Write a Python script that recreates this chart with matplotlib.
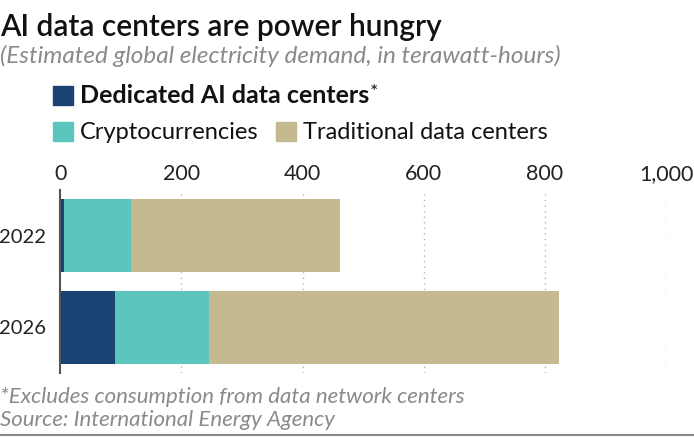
import matplotlib
matplotlib.use("Agg")
import matplotlib.pyplot as plt
import matplotlib.patches as mpatches
import matplotlib.ticker as ticker
import matplotlib.lines as mlines

# data (TWh)
years = ['2022', '2026']
ai_dc = [6, 90]
crypto = [110, 156]
traditional = [345, 578]

series_labels = ['Dedicated AI data centers', 'Cryptocurrencies', 'Traditional data centers']
colors = ['#1a4272', '#5bc5be', '#c5b990']

plt.rcParams['font.family'] = ['Lato', 'DejaVu Sans']

W, H = 694, 437
fig = plt.figure(figsize=(W/100, H/100), dpi=100)

def fx(px):
    return px / W

def fy(py):
    return 1 - py / H

# axes: x from 0 (px 60.3) to 1000 (px 666), y from px 190 to 373
ax = fig.add_axes([fx(60.3), fy(373), fx(666) - fx(60.3), fy(190) - fy(373)])

ypos = list(range(len(years)))
left = [0]*len(years)
for vals, c in zip([ai_dc, crypto, traditional], colors):
    ax.barh(ypos, vals, left=left, height=0.8, color=c, edgecolor='none', zorder=2)
    left = [l+v for l, v in zip(left, vals)]

ax.set_xlim(0, 1000)
ax.set_ylim(1.5, -0.5)
ax.set_xticks([0, 200, 400, 600, 800, 1000])
ax.xaxis.set_major_formatter(ticker.FuncFormatter(lambda v, _: '{:,}'.format(int(v))))
ax.xaxis.tick_top()
ax.tick_params(axis='x', length=0, pad=4, labelsize=15.5, labelcolor='#222222')
ax.set_yticks(ypos)
ax.set_yticklabels(years)
ax.tick_params(axis='y', length=0, pad=10, labelsize=14.5, labelcolor='#222222')

ax.grid(axis='x', linestyle=(0, (1, 3)), color='#b5b5b5', linewidth=1, zorder=3)
for s in ['top', 'right', 'bottom']:
    ax.spines[s].set_visible(False)
ax.spines['left'].set_color('#555555')
ax.spines['left'].set_linewidth(1.5)
ax.spines['left'].set_zorder(4)

# titles
fig.text(fx(0), fy(36), 'AI data centers are power hungry', fontsize=21.5, fontweight='semibold',
         color='#111111', va='baseline', ha='left')
fig.text(fx(0), fy(63), '(Estimated global electricity demand, in terawatt-hours)', fontsize=17.5,
         style='italic', color='#8a8a8a', va='baseline', ha='left')

# legend
def legend_item(x, y, color, label, weight, size):
    fig.patches.append(mpatches.Rectangle((fx(x), fy(y)), fx(20), fy(0) - fy(19),
                                          transform=fig.transFigure, color=color, figure=fig))
    return fig.text(fx(x + 27), fy(y - 2), label, fontsize=size, fontweight=weight,
                    color='#111111', va='baseline', ha='left')

t0 = legend_item(53, 105, colors[0], series_labels[0], 'bold', 18)
legend_item(53, 141, colors[1], series_labels[1], 'normal', 17)
legend_item(276, 141, colors[2], series_labels[2], 'normal', 17)

fig.canvas.draw()
bb = t0.get_window_extent()
fig.text(fx(bb.x1 + 1), fy(92), '*', fontsize=14, color='#111111', va='center', ha='left')

# footnotes
fig.text(fx(0), fy(403), '*Excludes consumption from data network centers', fontsize=16,
         style='italic', color='#8a8a8a', va='baseline', ha='left')
fig.text(fx(0), fy(426), 'Source: International Energy Agency', fontsize=16,
         style='italic', color='#8a8a8a', va='baseline', ha='left')

fig.lines.append(mlines.Line2D([0, 1], [fy(435), fy(435)], transform=fig.transFigure,
                               color='#888888', linewidth=1.5))

fig.savefig('out.png', dpi=100)
